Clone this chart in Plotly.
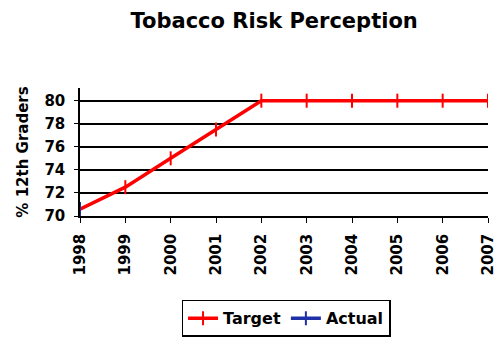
import plotly.graph_objects as go

years = ["1998", "1999", "2000", "2001", "2002", "2003", "2004", "2005", "2006", "2007"]
target = [70.6, 72.5, 75.0, 77.5, 80.0, 80.0, 80.0, 80.0, 80.0, 80.0]
actual_years = ["1998"]
actual = [70.6]
y_ticks = [70, 72, 74, 76, 78, 80]

FONT = "DejaVu Sans, Verdana, sans-serif"

fig = go.Figure()
fig.add_trace(go.Scatter(
    x=years, y=target, name="Target", mode="lines+markers",
    line=dict(color="#ff0000", width=3.5),
    marker=dict(symbol="line-ns", size=10, line=dict(color="#ff0000", width=2)),
))
fig.add_trace(go.Scatter(
    x=actual_years, y=actual, name="Actual", mode="lines+markers",
    line=dict(color="#1f2fa8", width=3.5),
    marker=dict(symbol="line-ns", size=10, line=dict(color="#1f2fa8", width=2)),
))

fig.update_layout(
    width=503, height=344,
    margin=dict(l=80, r=6, t=88, b=128),
    paper_bgcolor="white", plot_bgcolor="white",
    font=dict(family=FONT, size=15, color="black", weight="bold"),
    title=dict(text="<b>Tobacco Risk Perception</b>", x=0.545, xanchor="center",
               y=0.939, yanchor="middle", font=dict(size=21, family=FONT)),
    showlegend=True,
    legend=dict(orientation="h", x=0.505, xanchor="center", y=-0.655, yanchor="top",
                bordercolor="black", borderwidth=1.5,
                font=dict(size=16, family=FONT, weight="bold"),
                itemwidth=30, tracegroupgap=0),
)
fig.update_xaxes(
    type="category", range=[0, 9],
    tickangle=-90, ticks="outside", ticklen=5, tickcolor="black",
    ticklabelstandoff=5,
    showline=True, linecolor="black", linewidth=1.5,
    showgrid=False, tickfont=dict(size=15, family=FONT, weight="bold"),
)
fig.update_yaxes(
    range=[70, 81.1], tickvals=y_ticks,
    ticks="outside", ticklen=4, tickcolor="black",
    ticklabelstandoff=6,
    showline=True, linecolor="black", linewidth=1.5,
    showgrid=True, gridcolor="black", gridwidth=1.5,
    zeroline=False,
    tickfont=dict(size=15, family=FONT, weight="bold"),
    title=dict(text="<b>% 12th Graders</b>", standoff=12, font=dict(size=15, family=FONT)),
)

fig.write_html("out.html")
